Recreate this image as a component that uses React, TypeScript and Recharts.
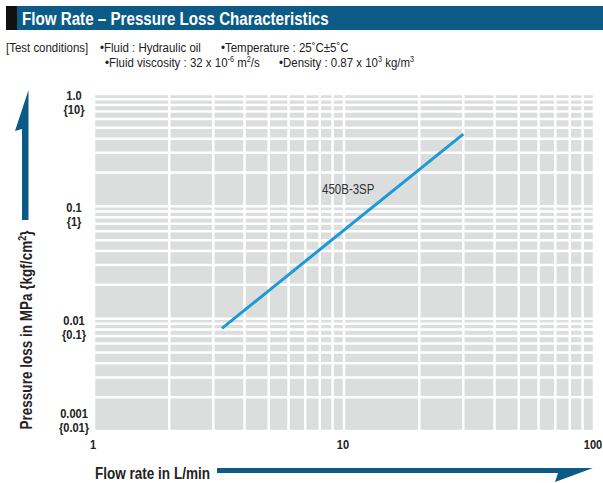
import { LineChart, Line, XAxis, YAxis, CartesianGrid, ReferenceDot } from 'recharts';

// 450B-3SP pressure loss vs flow rate
const flowRate = [3.25, 30];
const pressureLoss = [0.0082, 0.44];
const seriesName = '450B-3SP';

// log grid lines
const xTicks = [1, 2, 3, 4, 5, 6, 7, 8, 9, 10, 20, 30, 40, 50, 60, 70, 80, 90, 100];
const xMajor = [1, 10, 100];
const xMajorLabels = ['1', '10', '100'];

const yTicks = [
    0.001, 0.002, 0.003, 0.004, 0.005, 0.006, 0.007, 0.008, 0.009,
    0.01, 0.02, 0.03, 0.04, 0.05, 0.06, 0.07, 0.08, 0.09,
    0.1, 0.2, 0.3, 0.4, 0.5, 0.6, 0.7, 0.8, 0.9, 1,
];
const yMajor = [0.001, 0.01, 0.1, 1];
const yMpaLabels = ['0.001', '0.01', '0.1', '1.0'];
const yKgfLabels = ['{0.01}', '{0.1}', '{1}', '{10}'];

const data = flowRate.map((q, i) => ({ q, p: pressureLoss[i] }));

const FONT = "'Liberation Sans', Arial, sans-serif";
const BLUE = '#0b5b86';

const findMajor = (list: number[], v: number) => list.findIndex(m => Math.abs(m - v) < 1e-9);

// condensed look: squeeze Liberation Sans horizontally
function NText({ x, y, size, bold, anchor, sx = 0.82, rotate = 0, fill = '#222', children }: any) {
    return (
        <text
            transform={`translate(${x},${y}) rotate(${rotate}) scale(${sx},1)`}
            fontFamily={FONT}
            fontWeight={bold ? 'bold' : 'normal'}
            fontSize={size}
            textAnchor={anchor || 'start'}
            fill={fill}
        >
            {children}
        </text>
    );
}

function XTick({ x, y, payload }: any) {
    const i = findMajor(xMajor, payload.value);
    if (i < 0) return null;
    return (
        <NText x={x - 1} y={y + 10} size={13.5} bold anchor="middle">
            {xMajorLabels[i]}
        </NText>
    );
}

function YTick({ y, payload }: any) {
    const i = findMajor(yMajor, payload.value);
    if (i < 0) return null;
    // bottom label sits above its line
    const off = i === 0 ? -13 : 6;
    return (
        <NText x={74} y={y + off} size={13.5} bold anchor="middle">
            <tspan x={0}>{yMpaLabels[i]}</tspan>
            <tspan x={0} dy={14}>{yKgfLabels[i]}</tspan>
        </NText>
    );
}

function DotLabel({ viewBox }: any) {
    const cx = viewBox.x + viewBox.width / 2;
    const cy = viewBox.y + viewBox.height / 2;
    return (
        <NText x={cx} y={cy + 5} size={14} anchor="middle" fill="#333">
            {seriesName}
        </NText>
    );
}

function Overlay() {
    const sup = { fontSize: 8.5 };
    return (
        <svg width={603} height={483} style={{ position: 'absolute', left: 0, top: 0, pointerEvents: 'none' }}>
            <rect x={6} y={6} width={597} height={24} fill={BLUE} />
            <rect x={6} y={6} width={11} height={24} fill="#111" />
            <NText x={22} y={25} size={18.5} bold fill="#fff">
                Flow Rate – Pressure Loss Characteristics
            </NText>

            <NText x={6} y={52} size={13.5} sx={0.85}>[Test conditions]</NText>
            <NText x={100} y={52} size={13.5} sx={0.85}>•Fluid : Hydraulic oil</NText>
            <NText x={221} y={52} size={13.5} sx={0.85}>•Temperature : 25˚C±5˚C</NText>
            <NText x={105} y={67} size={13.5} sx={0.85}>
                •Fluid viscosity : 32 x 10<tspan dy={-5} {...sup}>-6</tspan>
                <tspan dy={5}> m</tspan><tspan dy={-5} {...sup}>2</tspan><tspan dy={5}>/s</tspan>
            </NText>
            <NText x={279} y={67} size={13.5} sx={0.85}>
                •Density : 0.87 x 10<tspan dy={-5} {...sup}>3</tspan>
                <tspan dy={5}> kg/m</tspan><tspan dy={-5} {...sup}>3</tspan>
            </NText>

            {/* y axis arrow + title */}
            <polygon points="28.5,90 15,131 22,129 22,220 28.5,220" fill={BLUE} />
            <NText x={32} y={330} rotate={-90} size={16.5} bold anchor="middle">
                Pressure loss in MPa {'{'}kgf/cm<tspan dy={-6} fontSize={11}>2</tspan><tspan dy={6}>{'}'}</tspan>
            </NText>

            {/* x axis title + arrow */}
            <NText x={95} y={479} size={16.5} bold>
                Flow rate in L/min
            </NText>
            <polygon points="217,468 593,468 555,482 558,473 217,473" fill={BLUE} />
        </svg>
    );
}

export default function App() {
    return (
        <div style={{ position: 'absolute', left: 0, top: 0, width: 603, height: 483, background: '#fff' }}>
            <LineChart width={603} height={483} data={data} margin={{ top: 94, right: 9, left: 0, bottom: 0 }}>
                <CartesianGrid fill="#dcdddd" fillOpacity={1} stroke="#fff" strokeWidth={2.5} />
                <XAxis
                    dataKey="q"
                    type="number"
                    scale="log"
                    domain={[1, 100]}
                    ticks={xTicks}
                    interval={0}
                    height={52}
                    axisLine={false}
                    tickLine={false}
                    tick={<XTick />}
                    allowDataOverflow
                />
                <YAxis
                    dataKey="p"
                    type="number"
                    scale="log"
                    domain={[0.001, 1]}
                    ticks={yTicks}
                    interval={0}
                    width={94}
                    axisLine={false}
                    tickLine={false}
                    tick={<YTick />}
                    allowDataOverflow
                />
                <Line
                    type="linear"
                    dataKey="p"
                    stroke="#1b9ad7"
                    strokeWidth={3}
                    dot={false}
                    isAnimationActive={false}
                />
                <ReferenceDot
                    x={10.4}
                    y={0.142}
                    r={0}
                    fill="none"
                    stroke="none"
                    label={<DotLabel />}
                />
            </LineChart>
            <Overlay />
        </div>
    );
}
